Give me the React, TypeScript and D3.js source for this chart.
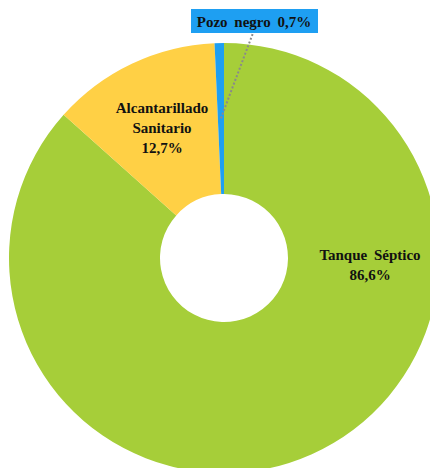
import React from "react";
import * as d3 from "d3";

const categories = ["Tanque Séptico", "Alcantarillado Sanitario", "Pozo negro"];
const values = [86.6, 12.7, 0.7];
const valueLabels = ["86,6%", "12,7%", "0,7%"];
const colors = ["#A6CE39", "#FFD045", "#1E9FF2"];

export default function App() {
  const W = 430, H = 468;
  const cx = 224, cy = 258, R = 215, r0 = 64;
  const pie = d3.pie<number>().sort(null).value((d) => d)(values);
  const arc = d3.arc<d3.PieArcDatum<number>>().innerRadius(r0).outerRadius(R);
  const font = "'Liberation Serif', 'Times New Roman', serif";
  // leader for the small slice
  const small = pie[2];
  const midA = (small.startAngle + small.endAngle) / 2;
  const lr = R * 0.65;
  const lx = cx + Math.sin(midA) * lr;
  const ly = cy - Math.cos(midA) * lr;
  return (
    <svg width={W} height={H} style={{ position: "absolute", left: 0, top: 0 }}>
      <rect width={W} height={H} fill="#fff" />
      <g transform={`translate(${cx},${cy})`}>
        {pie.map((p, i) => (
          <path key={i} d={arc(p) || ""} fill={colors[i]} />
        ))}
      </g>
      <line x1={lx} y1={ly} x2={253} y2={33} stroke="#8a8a8a" strokeWidth={2} strokeDasharray="2,2" />
      <rect x={191} y={9} width={127} height={24} fill={colors[2]} />
      <text x={254} y={27} textAnchor="middle" fontFamily={font} fontWeight="bold" fontSize={15} fill="#111" wordSpacing={3}>
        {categories[2]} {valueLabels[2]}
      </text>
      <text fontFamily={font} fontWeight="bold" fontSize={15} fill="#111" textAnchor="middle">
        <tspan x={162} y={113}>Alcantarillado</tspan>
        <tspan x={162} y={133}>Sanitario</tspan>
        <tspan x={162} y={153}>{valueLabels[1]}</tspan>
      </text>
      <text fontFamily={font} fontWeight="bold" fontSize={15} fill="#111" textAnchor="middle" wordSpacing={3}>
        <tspan x={370} y={260}>{categories[0]}</tspan>
        <tspan x={370} y={280}>{valueLabels[0]}</tspan>
      </text>
    </svg>
  );
}
